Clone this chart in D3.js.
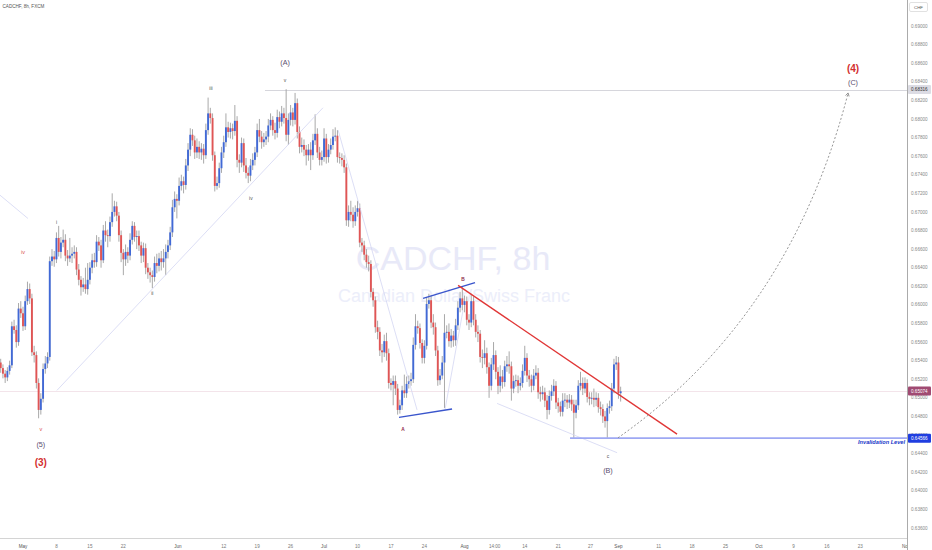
<!DOCTYPE html>
<html><head><meta charset="utf-8">
<script src="https://cdn.jsdelivr.net/npm/d3@7"></script>
<style>body{margin:0;background:#fff}svg{display:block;font-family:"Liberation Sans",Arial,sans-serif}</style>
</head><body><svg id="c" width="932" height="550"></svg>
<script>
// ---- data (8h bars, CADCHF) ----
const firstOpen = 0.6538;
const closes = [
0.6532,0.6526,0.6522,0.6529,0.6535,0.6577,0.6573,0.6560,0.6596,0.6591,
0.6577,0.6604,0.6617,0.6607,0.6549,0.6546,0.6516,0.6487,0.6499,0.6531,
0.6537,0.6544,0.6647,0.6652,0.6649,0.6672,0.6657,0.6667,0.6670,0.6653,
0.6650,0.6653,0.6655,0.6657,0.6638,0.6627,0.6619,0.6622,0.6617,0.6627,
0.6640,0.6648,0.6646,0.6668,0.6664,0.6648,0.6680,0.6675,0.6674,0.6689,
0.6700,0.6706,0.6696,0.6675,0.6656,0.6649,0.6657,0.6653,0.6670,0.6685,
0.6673,0.6674,0.6664,0.6653,0.6661,0.6640,0.6635,0.6632,0.6630,0.6645,
0.6642,0.6650,0.6646,0.6650,0.6657,0.6664,0.6678,0.6705,0.6714,0.6712,
0.6728,0.6733,0.6729,0.6750,0.6767,0.6783,0.6777,0.6764,0.6770,0.6764,
0.6768,0.6761,0.6788,0.6806,0.6801,0.6761,0.6728,0.6731,0.6747,0.6764,
0.6775,0.6791,0.6786,0.6790,0.6787,0.6798,0.6756,0.6753,0.6774,0.6750,
0.6742,0.6739,0.6750,0.6756,0.6764,0.6788,0.6781,0.6775,0.6778,0.6781,
0.6793,0.6799,0.6788,0.6785,0.6802,0.6797,0.6806,0.6801,0.6783,0.6799,
0.6807,0.6799,0.6817,0.6786,0.6770,0.6772,0.6767,0.6761,0.6767,0.6761,
0.6777,0.6784,0.6764,0.6756,0.6759,0.6779,0.6759,0.6767,0.6772,0.6781,
0.6782,0.6759,0.6758,0.6756,0.6748,0.6691,0.6700,0.6697,0.6690,0.6700,
0.6704,0.6667,0.6664,0.6654,0.6646,0.6644,0.6614,0.6605,0.6576,0.6571,
0.6551,0.6549,0.6561,0.6548,0.6516,0.6514,0.6518,0.6510,0.6487,0.6492,
0.6508,0.6505,0.6515,0.6518,0.6520,0.6557,0.6577,0.6575,0.6559,0.6543,
0.6556,0.6601,0.6605,0.6581,0.6576,0.6551,0.6519,0.6524,0.6538,0.6570,
0.6571,0.6561,0.6567,0.6562,0.6578,0.6597,0.6607,0.6600,0.6604,0.6584,
0.6581,0.6604,0.6584,0.6571,0.6569,0.6544,0.6543,0.6548,0.6533,0.6513,
0.6536,0.6546,0.6528,0.6513,0.6523,0.6517,0.6534,0.6536,0.6534,0.6510,
0.6518,0.6519,0.6513,0.6516,0.6529,0.6543,0.6524,0.6520,0.6513,0.6524,
0.6527,0.6506,0.6504,0.6506,0.6497,0.6487,0.6502,0.6507,0.6513,0.6495,
0.6491,0.6485,0.6497,0.6498,0.6495,0.6498,0.6493,0.6484,0.6492,0.6513,
0.6516,0.6510,0.6516,0.6501,0.6499,0.6500,0.6498,0.6500,0.6490,0.6488,
0.6480,0.6475,0.6489,0.6491,0.6510,0.6536,0.6538,0.6505,0.6507];
const highs = [
.6542,.6536,.6530,.6533,.6540,.6582,.6584,.6578,.6602,.6604,
.6598,.6610,.6625,.6623,.6612,.6556,.6550,.6521,.6505,.6537,
.6545,.6549,.6652,.6660,.6658,.6678,.6685,.6673,.6681,.6676,
.6659,.6672,.6662,.6664,.6662,.6644,.6631,.6629,.6640,.6645,
.6646,.6655,.6656,.6675,.6673,.6670,.6686,.6690,.6681,.6695,
.6720,.6712,.6711,.6700,.6680,.6660,.6665,.6662,.6677,.6690,
.6689,.6680,.6680,.6668,.6667,.6666,.6645,.6640,.6637,.6652,
.6655,.6656,.6658,.6660,.6665,.6670,.6684,.6713,.6722,.6719,
.6737,.6740,.6738,.6757,.6774,.6790,.6789,.6782,.6779,.6776,
.6774,.6773,.6795,.6823,.6812,.6806,.6765,.6738,.6753,.6770,
.6782,.6806,.6797,.6796,.6795,.6815,.6803,.6762,.6780,.6779,
.6758,.6748,.6757,.6763,.6770,.6795,.6800,.6787,.6785,.6787,
.6800,.6806,.6803,.6796,.6810,.6808,.6814,.6812,.6832,.6806,
.6815,.6812,.6828,.6822,.6792,.6780,.6778,.6772,.6773,.6775,
.6784,.6805,.6790,.6770,.6766,.6790,.6784,.6773,.6779,.6789,
.6791,.6788,.6764,.6763,.6761,.6752,.6707,.6712,.6705,.6707,
.6712,.6709,.6672,.6669,.6660,.6653,.6648,.6618,.6609,.6583,
.6576,.6558,.6568,.6570,.6553,.6521,.6524,.6524,.6515,.6498,
.6513,.6525,.6523,.6524,.6527,.6565,.6590,.6583,.6580,.6563,
.6562,.6608,.6612,.6610,.6590,.6581,.6556,.6531,.6545,.6590,
.6578,.6580,.6574,.6572,.6585,.6604,.6614,.6619,.6610,.6609,
.6590,.6612,.6609,.6590,.6578,.6573,.6552,.6562,.6554,.6538,
.6543,.6560,.6551,.6533,.6535,.6530,.6540,.6545,.6550,.6539,
.6524,.6525,.6524,.6522,.6536,.6556,.6548,.6530,.6525,.6531,
.6535,.6532,.6512,.6513,.6511,.6503,.6508,.6514,.6520,.6518,
.6500,.6496,.6505,.6505,.6503,.6504,.6503,.6498,.6498,.6519,
.6528,.6522,.6522,.6520,.6506,.6506,.6510,.6506,.6505,.6496,
.6493,.6486,.6494,.6497,.6516,.6542,.6545,.6544,.6512];
const lows = [
.6527,.6521,.6516,.6518,.6525,.6532,.6569,.6554,.6556,.6586,
.6572,.6573,.6600,.6601,.6545,.6538,.6510,.6478,.6482,.6495,
.6526,.6532,.6540,.6642,.6641,.6645,.6652,.6650,.6662,.6647,
.6642,.6646,.6645,.6650,.6632,.6621,.6610,.6614,.6612,.6611,
.6622,.6634,.6640,.6641,.6658,.6640,.6645,.6668,.6662,.6668,
.6684,.6695,.6690,.6668,.6646,.6632,.6642,.6645,.6648,.6665,
.6668,.6660,.6658,.6645,.6646,.6633,.6628,.6624,.6618,.6625,
.6634,.6636,.6637,.6640,.6632,.6650,.6659,.6673,.6700,.6693,
.6707,.6723,.6720,.6724,.6744,.6760,.6771,.6757,.6758,.6757,
.6756,.6752,.6757,.6783,.6795,.6755,.6722,.6724,.6726,.6742,
.6758,.6770,.6780,.6779,.6778,.6782,.6748,.6742,.6748,.6743,
.6736,.6731,.6733,.6745,.6750,.6759,.6775,.6768,.6770,.6772,
.6775,.6788,.6782,.6778,.6780,.6790,.6792,.6795,.6776,.6772,
.6793,.6792,.6794,.6779,.6763,.6764,.6760,.6750,.6755,.6745,
.6756,.6772,.6758,.6750,.6750,.6754,.6752,.6753,.6762,.6767,
.6776,.6753,.6752,.6749,.6742,.6685,.6684,.6690,.6683,.6685,
.6695,.6662,.6657,.6648,.6640,.6636,.6608,.6598,.6570,.6563,
.6545,.6538,.6544,.6540,.6510,.6508,.6492,.6503,.6482,.6483,
.6487,.6500,.6500,.6510,.6513,.6516,.6552,.6569,.6553,.6537,
.6537,.6552,.6596,.6575,.6568,.6545,.6513,.6514,.6520,.6489,
.6564,.6555,.6554,.6555,.6556,.6573,.6592,.6594,.6592,.6578,
.6573,.6576,.6578,.6565,.6560,.6538,.6532,.6536,.6526,.6500,
.6508,.6530,.6520,.6504,.6506,.6510,.6512,.6528,.6526,.6497,
.6505,.6512,.6505,.6508,.6511,.6524,.6517,.6512,.6506,.6508,
.6520,.6499,.6496,.6498,.6490,.6477,.6482,.6497,.6502,.6488,
.6484,.6480,.6480,.6490,.6488,.6489,.6486,.6457,.6478,.6487,
.6508,.6503,.6505,.6495,.6492,.6493,.6490,.6491,.6484,.6481,
.6473,.6468,.6457,.6483,.6486,.6505,.6530,.6499,.6496];

// time axis labels, positioned by bar number
const dateTicks = [
 {label:"May",bar:10,major:true},{label:"8",bar:25},{label:"15",bar:40},{label:"22",bar:55},
 {label:"Jun",bar:79.5,major:true},{label:"12",bar:100},{label:"19",bar:115},{label:"26",bar:130},
 {label:"Jul",bar:145,major:true},{label:"10",bar:160},{label:"17",bar:175},{label:"24",bar:190},
 {label:"Aug",bar:208,major:true},{label:"14:00",bar:221.5},{label:"14",bar:235},{label:"21",bar:250},
 {label:"27",bar:264.5},{label:"Sep",bar:277,major:true},{label:"11",bar:295},{label:"18",bar:310},
 {label:"25",bar:325},{label:"Oct",bar:340,major:true},{label:"9",bar:355.5},{label:"16",bar:370.5},
 {label:"23",bar:385.5},{label:"Nov",bar:406,major:true}];
const priceTicks = [0.636,0.638,0.640,0.642,0.644,0.646,0.648,0.650,0.652,0.654,0.656,0.658,0.660,
 0.662,0.664,0.666,0.668,0.670,0.672,0.674,0.676,0.678,0.680,0.682,0.684,0.686,0.688,0.690];
const priceMarkers = [
 {value:0.68316,label:"0.68316",kind:"level"},
 {value:0.65074,label:"0.65074",kind:"last"},
 {value:0.64566,label:"0.64566",kind:"invalid"}];
const waveLabels = [
 {text:"iv",bar:10,price:0.6657,kind:"minorRed"},
 {text:"i",bar:25,price:0.6689,kind:"minor"},
 {text:"v",bar:18,price:0.6466,kind:"minorRed"},
 {text:"(5)",bar:18,price:0.6450,kind:"inter"},
 {text:"(3)",bar:18,price:0.6430,kind:"primary"},
 {text:"ii",bar:68,price:0.6612,kind:"minor"},
 {text:"iii",bar:94.3,price:0.6833,kind:"minor"},
 {text:"iv",bar:112.2,price:0.6715,kind:"minor"},
 {text:"(A)",bar:127.5,price:0.6861,kind:"inter"},
 {text:"v",bar:127.5,price:0.6842,kind:"minor"},
 {text:"A",bar:180.4,price:0.6466,kind:"tiny"},
 {text:"B",bar:207.3,price:0.6628,kind:"tiny"},
 {text:"c",bar:272.3,price:0.6437,kind:"minor"},
 {text:"(B)",bar:272.3,price:0.6422,kind:"inter"},
 {text:"(4)",bar:382.2,price:0.6854,kind:"primary"},
 {text:"(C)",bar:382.2,price:0.6839,kind:"inter"}];
const guideLines = [
 {a:[-0.3,0.6718],b:[12.2,0.6693],kind:"faint"},
 {a:[25.2,0.6508],b:[144.5,0.6812],kind:"faint"},
 {a:[151.3,0.6788],b:[186.7,0.6487],kind:"faint"},
 {a:[199.2,0.6487],b:[207.3,0.6594],kind:"faint"},
 {a:[222.6,0.6494],b:[276.4,0.6441],kind:"faint"},
 {a:[178.6,0.6479],b:[202.4,0.6488],kind:"blue"},
 {a:[189.4,0.6607],b:[212.7,0.6624],kind:"blue"},
 {a:[205.1,0.6621],b:[303.3,0.6461],kind:"red"}];
const projection = [[276.8,0.6457],[313.6,0.6519],[358.4,0.6627],[380,0.6828]];

// ---- chart ----
const W=932,H=550,plotR=907,plotB=538;
const svg=d3.select("#c");
const x=d3.scaleLinear().domain([0,406]).range([0.7,906.1]);
const y=d3.scaleLinear().domain([0.636,0.690]).range([528,26]);

svg.append("defs").append("clipPath").attr("id","pc").append("rect").attr("x",0).attr("y",0).attr("width",plotR).attr("height",plotB);
svg.select("defs").append("marker").attr("id","arr").attr("viewBox","0 0 10 10").attr("refX",8).attr("refY",5)
 .attr("markerWidth",5).attr("markerHeight",5).attr("orient","auto")
 .append("path").attr("d","M1,1 L8,5 L1,9").attr("fill","none").attr("stroke","#777").attr("stroke-width",1.6);

const g=svg.append("g").attr("clip-path","url(#pc)");

// watermark
g.append("text").attr("x",453).attr("y",y(0.6637)).attr("text-anchor","middle").attr("font-size",34)
 .attr("fill","#e8e9f8").text("CADCHF, 8h");
g.append("text").attr("x",454).attr("y",y(0.6605)+2).attr("text-anchor","middle").attr("font-size",18)
 .attr("fill","#eceefa").text("Canadian Dollar/Swiss Franc");

// last price line and level line
const last=priceMarkers.find(d=>d.kind==="last"), lvl=priceMarkers.find(d=>d.kind==="level"), inv=priceMarkers.find(d=>d.kind==="invalid");
g.append("line").attr("x1",0).attr("x2",plotR).attr("y1",Math.round(y(last.value))+0.5).attr("y2",Math.round(y(last.value))+0.5)
 .attr("stroke","#f3e4ea").attr("stroke-width",1);
g.append("line").attr("x1",x(118.5)).attr("x2",plotR).attr("y1",Math.round(y(lvl.value))+0.5).attr("y2",Math.round(y(lvl.value))+0.5)
 .attr("stroke","#d6d6dc").attr("stroke-width",1);

// candles
const bars=closes.map((c,i)=>{const o=i?closes[i-1]:firstOpen;return {i,o,c,h:Math.max(highs[i],o,c),l:Math.min(lows[i],o,c)};});
g.append("g").selectAll("line").data(bars).join("line")
 .attr("x1",d=>x(d.i)).attr("x2",d=>x(d.i)).attr("y1",d=>y(d.h)).attr("y2",d=>y(d.l))
 .attr("stroke","#a9a9a9").attr("stroke-width",1);
g.append("g").selectAll("rect").data(bars).join("rect")
 .attr("x",d=>x(d.i)-0.95).attr("width",1.9)
 .attr("y",d=>y(Math.max(d.o,d.c))).attr("height",d=>Math.max(0.9,Math.abs(y(d.o)-y(d.c))))
 .attr("fill",d=>d.c>=d.o?"#4169d6":"#e05555");

// guide lines
const lineStyle={faint:{s:"#d3d6f3",w:0.8},blue:{s:"#3a55cc",w:1.4},red:{s:"#e03636",w:1.4}};
g.append("g").selectAll("line").data(guideLines).join("line")
 .attr("x1",d=>x(d.a[0])).attr("y1",d=>y(d.a[1])).attr("x2",d=>x(d.b[0])).attr("y2",d=>y(d.b[1]))
 .attr("stroke",d=>lineStyle[d.kind].s).attr("stroke-width",d=>lineStyle[d.kind].w);

// invalidation level
g.append("line").attr("x1",x(255.3)).attr("x2",plotR).attr("y1",y(inv.value)).attr("y2",y(inv.value))
 .attr("stroke","#9ea8f3").attr("stroke-width",1.8);
g.append("text").attr("x",905).attr("y",y(inv.value)+5.5).attr("text-anchor","end").attr("font-size",5.6)
 .attr("font-style","italic").attr("font-weight","bold").attr("fill","#2036c8").text("Invalidation Level");

// projected path
const pp=d3.path();
pp.moveTo(x(projection[0][0]),y(projection[0][1]));
pp.bezierCurveTo(x(projection[1][0]),y(projection[1][1]),x(projection[2][0]),y(projection[2][1]),x(projection[3][0]),y(projection[3][1]));
g.append("path").attr("d",pp.toString()).attr("fill","none").attr("stroke","#8a8a8a").attr("stroke-width",0.9)
 .attr("stroke-dasharray","2,2").attr("marker-end","url(#arr)");

// wave labels
const ls={minor:{f:5,c:"#555",w:"normal"},minorRed:{f:5.5,c:"#d9534f",w:"normal"},inter:{f:7.2,c:"#5a4d6e",w:"normal"},
 primary:{f:10,c:"#d32f2f",w:"bold"},tiny:{f:4.8,c:"#8e2a4a",w:"bold"}};
g.append("g").selectAll("text").data(waveLabels).join("text")
 .attr("x",d=>x(d.bar)).attr("y",d=>y(d.price)).attr("dy","0.35em").attr("text-anchor","middle")
 .attr("font-size",d=>ls[d.kind].f).attr("fill",d=>ls[d.kind].c).attr("font-weight",d=>ls[d.kind].w).text(d=>d.text);

// header
svg.append("text").attr("x",2.5).attr("y",8).attr("font-size",4.6).attr("fill","#555").text("CADCHF, 8h, FXCM");

// bottom axis
svg.append("rect").attr("x",0).attr("y",plotB).attr("width",plotR).attr("height",H-plotB).attr("fill","#fff");
svg.append("line").attr("x1",0).attr("x2",plotR).attr("y1",plotB+0.5).attr("y2",plotB+0.5).attr("stroke","#d4d4d4");
svg.append("g").selectAll("text").data(dateTicks).join("text")
 .attr("x",d=>x(d.bar)).attr("y",547.5).attr("text-anchor","middle").attr("font-size",4.6)
 .attr("fill",d=>d.major?"#555":"#777").text(d=>d.label);

// right axis
svg.append("rect").attr("x",plotR).attr("y",0).attr("width",W-plotR).attr("height",H).attr("fill","#fff");
svg.append("line").attr("x1",plotR+0.5).attr("x2",plotR+0.5).attr("y1",0).attr("y2",H).attr("stroke","#ababab");
svg.append("g").selectAll("text").data(priceTicks).join("text")
 .attr("x",911).attr("y",d=>y(d)).attr("dy","0.35em").attr("font-size",4.6).attr("fill","#888")
 .text(d=>d3.format(".5f")(d));
const mk={level:{bg:"#dcdce4",fg:"#333"},last:{bg:"#a04a72",fg:"#fff"},invalid:{bg:"#1f3ee0",fg:"#fff"}};
priceMarkers.forEach(m=>{
 const yy=y(m.value);
 svg.append("rect").attr("x",plotR+1).attr("y",yy-4.5).attr("width",23).attr("height",9).attr("rx",1).attr("fill",mk[m.kind].bg);
 svg.append("text").attr("x",911).attr("y",yy).attr("dy","0.35em").attr("font-size",4.6).attr("fill",mk[m.kind].fg).text(m.label);
});
// currency box
svg.append("rect").attr("x",909.5).attr("y",2.5).attr("width",18).attr("height",9).attr("rx",1.5).attr("fill","#fff").attr("stroke","#ccc").attr("stroke-width",0.6);
svg.append("text").attr("x",918.5).attr("y",7).attr("dy","0.35em").attr("text-anchor","middle").attr("font-size",4.4).attr("fill","#555").text("CHF");
</script></body></html>
